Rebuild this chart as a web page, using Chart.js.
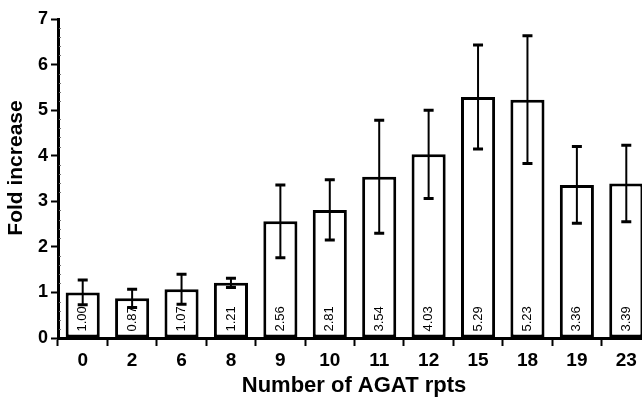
<!DOCTYPE html>
<html lang="en">
<head>
<meta charset="UTF-8">
<title>Fold increase by AGAT repeats</title>
<script src="https://cdn.jsdelivr.net/npm/chart.js"></script>
<style>
  html, body { margin: 0; padding: 0; background: #fff; overflow: hidden; }
  #wrap { width: 654px; height: 398px; }
</style>
</head>
<body>
<div id="wrap"><canvas id="foldChart" width="654" height="398"></canvas></div>
<script>
// data
const repeats = ["0", "2", "6", "8", "9", "10", "11", "12", "15", "18", "19", "23"];
const foldIncrease = [1.00, 0.87, 1.07, 1.21, 2.56, 2.81, 3.54, 4.03, 5.29, 5.23, 3.36, 3.39];
const errors = [0.27, 0.20, 0.33, 0.10, 0.80, 0.66, 1.24, 0.97, 1.14, 1.40, 0.84, 0.84];
const yMax = 7;

const FONT = "'Liberation Sans', Arial, Helvetica, sans-serif";

// value labels, error bars, minor ticks and axis titles
const extras = {
    id: "extras",
    afterDatasetsDraw(chart) {
        const ctx = chart.ctx;
        const meta = chart.getDatasetMeta(0);
        const y = chart.scales.y;
        const x = chart.scales.x;
        ctx.save();

        // values written inside the bars
        ctx.font = "13px " + FONT;
        ctx.fillStyle = "#000";
        meta.data.forEach((bar, i) => {
            ctx.save();
            ctx.translate(bar.x, bar.base - 6);
            ctx.rotate(-Math.PI / 2);
            ctx.textAlign = "left";
            ctx.textBaseline = "middle";
            ctx.fillText(foldIncrease[i].toFixed(2), 0, 0);
            ctx.restore();
        });

        // error bars
        ctx.strokeStyle = "#000";
        meta.data.forEach((bar, i) => {
            const bx = bar.x;
            const top = y.getPixelForValue(foldIncrease[i] + errors[i]);
            const bot = y.getPixelForValue(foldIncrease[i] - errors[i]);
            ctx.lineWidth = 2;
            ctx.beginPath();
            ctx.moveTo(bx, top);
            ctx.lineTo(bx, bot);
            ctx.stroke();
            ctx.lineWidth = 3;
            ctx.beginPath();
            ctx.moveTo(bx - 5, top); ctx.lineTo(bx + 5, top);
            ctx.moveTo(bx - 5, bot); ctx.lineTo(bx + 5, bot);
            ctx.stroke();
        });

        // minor ticks on the y axis
        ctx.strokeStyle = "#777";
        ctx.lineWidth = 1;
        for (let v = 0.2; v < yMax; v += 0.2) {
            if (Math.abs(v - Math.round(v)) < 0.01) continue;
            const py = Math.round(y.getPixelForValue(v)) + 0.5;
            ctx.beginPath();
            ctx.moveTo(y.right + 1, py);
            ctx.lineTo(y.right + 3, py);
            ctx.stroke();
        }

        // axis titles
        ctx.fillStyle = "#000";
        ctx.font = "bold 22px " + FONT;
        ctx.textAlign = "center";
        ctx.textBaseline = "middle";
        ctx.fillText("Number of AGAT rpts", 354, 386);
        ctx.save();
        ctx.translate(16, 168);
        ctx.rotate(-Math.PI / 2);
        ctx.font = "bold 21px " + FONT;
        ctx.fillText("Fold increase", 0, 0);
        ctx.restore();

        ctx.restore();
    }
};

const ctx = document.getElementById("foldChart").getContext("2d");
new Chart(ctx, {
    type: "bar",
    data: {
        labels: repeats,
        datasets: [{
            data: foldIncrease,
            backgroundColor: "#fff",
            borderColor: "#000",
            borderWidth: 3,
            borderSkipped: false,
            barPercentage: 0.69,
            categoryPercentage: 1
        }]
    },
    options: {
        responsive: false,
        animation: false,
        layout: { padding: { top: 19, right: 3, left: 0, bottom: 0 } },
        plugins: { legend: { display: false }, tooltip: { enabled: false } },
        scales: {
            x: {
                grid: { drawOnChartArea: false, offset: true, color: "#000", tickLength: 8, tickWidth: 2 },
                border: { color: "#000", width: 3 },
                ticks: { color: "#000", font: { family: FONT, size: 19, weight: "bold" }, padding: 3, maxRotation: 0, autoSkip: false },
                afterFit(scale) { scale.height = 60; }
            },
            y: {
                min: 0,
                max: yMax,
                grid: { drawOnChartArea: false, color: "#000", tickLength: 7, tickWidth: 2 },
                border: { color: "#000", width: 3 },
                ticks: { stepSize: 1, color: "#000", font: { family: FONT, size: 18, weight: "bold" }, padding: 3 },
                afterFit(scale) { scale.width = 58; }
            }
        }
    },
    plugins: [extras]
});
</script>
</body>
</html>
